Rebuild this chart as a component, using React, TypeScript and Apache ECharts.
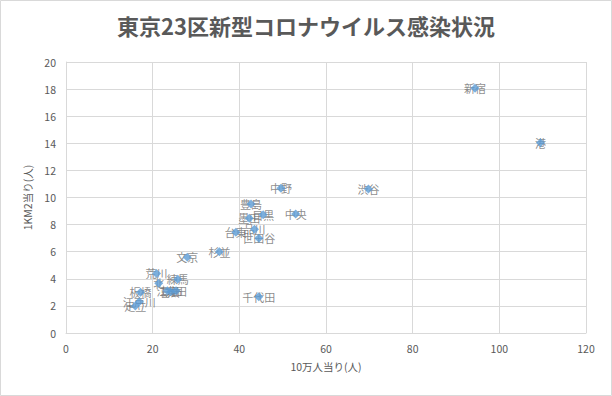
import React, { useEffect, useRef } from "react";
import * as echarts from "echarts";

const wards = [
  "新宿", "港", "渋谷", "中野", "豊島", "目黒", "中央", "墨田", "品川", "台東",
  "世田谷", "杉並", "文京", "荒川", "北", "練馬", "江東", "葛飾", "大田",
  "板橋", "江戸川", "足立", "千代田",
];
const per100k = [
  94.4, 109.5, 69.8, 49.6, 42.7, 45.5, 53.0, 42.3, 43.5, 39.2,
  44.5, 35.4, 28.0, 20.9, 21.4, 25.8, 23.4, 24.2, 25.4,
  17.2, 16.9, 16.0, 44.5,
];
const perKm2 = [
  18.06, 14.04, 10.63, 10.68, 9.52, 8.73, 8.78, 8.46, 7.65, 7.43,
  6.99, 6.0, 5.59, 4.4, 3.67, 3.96, 3.12, 3.05, 3.12,
  3.0, 2.31, 2.0, 2.68,
];
const xTicks = { min: 0, max: 120, interval: 20 };
const yTicks = { min: 0, max: 20, interval: 2 };

const FONT = "'Noto Sans CJK JP', 'Noto Sans', sans-serif";
const GRAY = "#595959";
const GRID = "#d9d9d9";

export default function App() {
  const ref = useRef<HTMLDivElement>(null);
  useEffect(() => {
    document.body.style.margin = "0";
    const chart = echarts.init(ref.current!, undefined, { renderer: "svg" });
    const points = wards.map((w, i) => ({ name: w, value: [per100k[i], perKm2[i]] }));
    chart.setOption({
      animation: false,
      backgroundColor: "#ffffff",
      textStyle: { fontFamily: FONT },
      title: {
        text: "東京23区新型コロナウイルス感染状況",
        left: "center",
        top: 9,
        textStyle: { fontFamily: FONT, fontSize: 22, fontWeight: "bold", color: GRAY },
      },
      graphic: [
        {
          type: "rect",
          shape: { x: 0.5, y: 0.5, width: 611, height: 395 },
          style: { fill: "none", stroke: GRID, lineWidth: 1 },
          silent: true,
        },
      ],
      grid: { left: 66, right: 26, top: 62, bottom: 63 },
      xAxis: {
        type: "value",
        min: xTicks.min,
        max: xTicks.max,
        interval: xTicks.interval,
        name: "10万人当り(人)",
        nameLocation: "middle",
        nameGap: 28,
        nameTextStyle: { color: GRAY, fontSize: 10.5, fontFamily: FONT },
        axisLine: { show: true, lineStyle: { color: GRID } },
        axisTick: { show: false },
        axisLabel: { color: GRAY, fontSize: 10.5, margin: 10 },
        splitLine: { show: true, lineStyle: { color: GRID } },
      },
      yAxis: {
        type: "value",
        min: yTicks.min,
        max: yTicks.max,
        interval: yTicks.interval,
        name: "1KM2当り(人)",
        nameLocation: "middle",
        nameGap: 33,
        nameRotate: 90,
        nameTextStyle: { color: GRAY, fontSize: 10.5, fontFamily: FONT },
        axisLine: { show: true, lineStyle: { color: GRID } },
        axisTick: { show: false },
        axisLabel: { color: GRAY, fontSize: 10.5, margin: 10 },
        splitLine: { show: true, lineStyle: { color: GRID } },
      },
      series: [
        {
          type: "scatter",
          symbolSize: 0,
          z: 1,
          silent: true,
          data: points,
          label: {
            show: true,
            position: "inside",
            formatter: "{b}",
            color: "#6e6e6e",
            fontSize: 11,
            fontFamily: FONT,
          },
          labelLayout: { hideOverlap: false },
        },
        {
          type: "scatter",
          symbol: "diamond",
          symbolSize: 9,
          z: 5,
          itemStyle: { color: "#5b9bd5" },
          data: points,
          label: { show: false },
        },
      ],
    });
    return () => chart.dispose();
  }, []);
  return <div ref={ref} style={{ width: 612, height: 396 }} />;
}
